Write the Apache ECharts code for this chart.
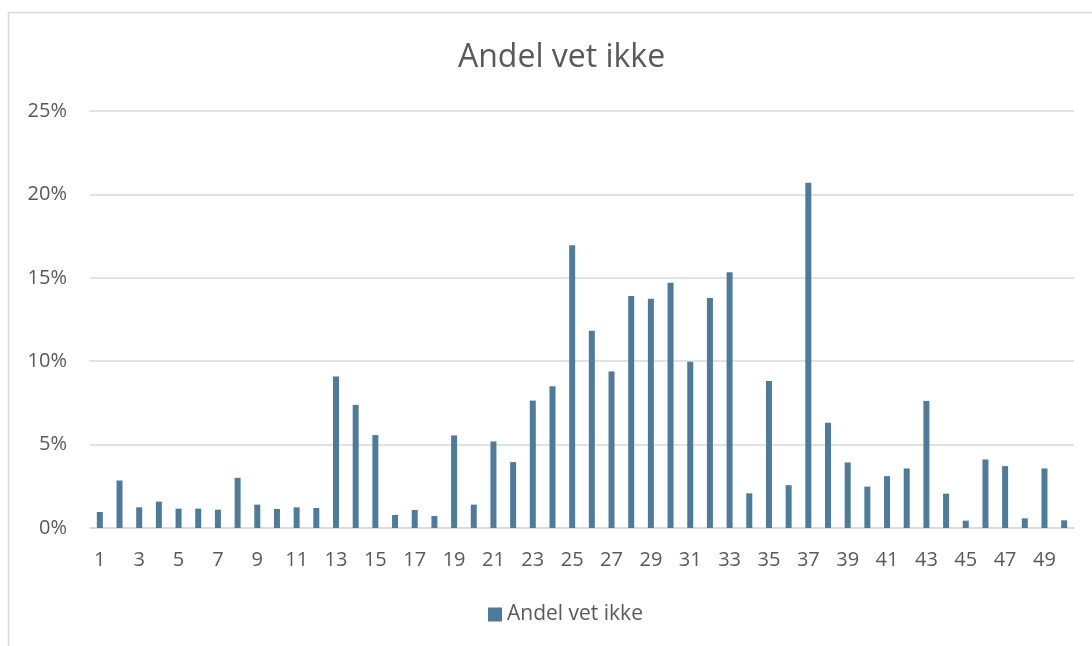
<!DOCTYPE html>
<html>
<head>
<meta charset="utf-8">
<script src="https://cdn.jsdelivr.net/npm/echarts@6/dist/echarts.min.js"></script>
<style>
  html, body { margin: 0; padding: 0; background: #fff; }
  #chart { width: 1092px; height: 646px; }
</style>
</head>
<body>
<div id="chart"></div>
<script>
var seriesName = 'Andel vet ikke';
var categories = [];
for (var i = 1; i <= 50; i++) { categories.push(String(i)); }
// percent values
var values = [
  0.96, 2.85, 1.24, 1.58, 1.16, 1.16, 1.10, 3.01, 1.40, 1.14,
  1.24, 1.20, 9.08, 7.38, 5.57, 0.78, 1.08, 0.72, 5.55, 1.40,
  5.19, 3.95, 7.64, 8.50, 16.95, 11.82, 9.38, 13.91, 13.75, 14.71,
  9.96, 13.79, 15.33, 2.08, 8.82, 2.57, 20.70, 6.31, 3.93, 2.48,
  3.11, 3.57, 7.62, 2.06, 0.44, 4.11, 3.71, 0.58, 3.57, 0.46
];

var font = 'Open Sans';
var textColor = '#595959';

var option = {
  animation: false,
  title: {
    text: seriesName,
    left: 453,
    top: 37,
    textStyle: { fontFamily: font, fontSize: 32, fontWeight: 'normal', color: textColor }
  },
  grid: { left: 90, right: 18, top: 111, bottom: 118 },
  legend: {
    top: 599,
    left: 483,
    icon: 'rect',
    itemWidth: 14,
    itemHeight: 14,
    itemGap: 6,
    textStyle: { fontFamily: font, fontSize: 21, color: textColor },
    data: [seriesName]
  },
  xAxis: {
    type: 'category',
    data: categories,
    axisLine: { lineStyle: { color: '#d9d9d9', width: 1.5 } },
    axisTick: { show: false },
    axisLabel: { interval: 1, fontFamily: font, fontSize: 20, color: textColor, margin: 22 }
  },
  yAxis: {
    type: 'value',
    min: 0,
    max: 25,
    interval: 5,
    axisLine: { show: false },
    axisTick: { show: false },
    splitLine: { lineStyle: { color: '#d9d9d9', width: 1.5 } },
    axisLabel: { formatter: '{value}%', fontFamily: font, fontSize: 20, color: textColor, margin: 23 }
  },
  graphic: [{
    type: 'rect',
    shape: { x: 8.5, y: 12.5, width: 1200, height: 800 },
    style: { fill: 'none', stroke: '#d9d9d9', lineWidth: 1.5 },
    silent: true
  }],
  series: [{
    name: seriesName,
    type: 'bar',
    barWidth: 6,
    itemStyle: { color: '#4f7b9b' },
    data: values
  }]
};

echarts.init(document.getElementById('chart')).setOption(option);
</script>
</body>
</html>
